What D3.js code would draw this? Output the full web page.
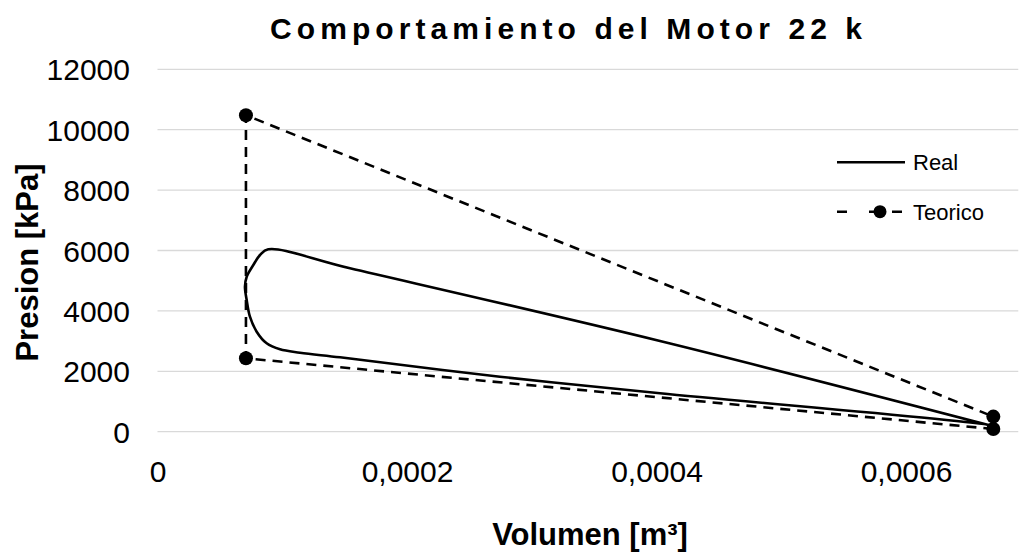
<!DOCTYPE html>
<html><head><meta charset="utf-8">
<script src="https://cdn.jsdelivr.net/npm/d3@7"></script>
<style>body{margin:0;background:#fff}svg{display:block;font-family:"Liberation Sans",Arial,sans-serif}</style>
</head><body><svg id="c" width="1022" height="555"></svg>
<script>
const title = "Comportamiento del Motor 22 k";
const xTicks = [0, 0.0002, 0.0004, 0.0006];
const xTickLabels = ["0", "0,0002", "0,0004", "0,0006"];
const yTicks = [0, 2000, 4000, 6000, 8000, 10000, 12000];
const realV = [0.000670, 0.0006673, 0.0004028, 0.0002745, 0.0001463, 0.0001142, 0.0000982, 0.0000875, 0.0000795, 0.0000741, 0.0000715, 0.0000701, 0.0000715, 0.0000768, 0.0000822, 0.0000888, 0.0001543, 0.0004028, 0.000670];
const realP = [180, 221, 1271, 1821, 2463, 2616, 2728, 2927, 3311, 3808, 4361, 4801, 5132, 5519, 5850, 6039, 5410, 3002, 180];
const teoV = [0.000670, 0.0000709, 0.0000709, 0.000670, 0.000670];
const teoP = [90, 2430, 10480, 500, 90];

const svg = d3.select("#c");
const xMax = 0.00069;
const x = d3.scaleLinear().domain([0, xMax]).range([157.5, 157.5 + xMax / 0.0002 * 249.5]);
const y = d3.scaleLinear().domain([0, 12000]).range([431.7, 69.3]);

svg.append("g").selectAll("line").data(yTicks).join("line")
  .attr("x1", x(0)).attr("x2", x(xMax))
  .attr("y1", d => y(d)).attr("y2", d => y(d))
  .attr("stroke", "#d9d9d9").attr("stroke-width", 1.3);

const yAxis = d3.axisLeft(y).tickValues(yTicks).tickSize(0).tickPadding(0).tickFormat(d3.format("d"));
const gy = svg.append("g").attr("transform", "translate(130,0)").call(yAxis);
gy.select(".domain").remove();
gy.selectAll("text").attr("font-size", 30).attr("fill", "#000").attr("font-family", "Liberation Sans, Arial").attr("dy", "0.35em");

const xAxis = d3.axisBottom(x).tickValues(xTicks).tickSize(0).tickPadding(0).tickFormat((d, i) => xTickLabels[i]);
const gx = svg.append("g").attr("transform", "translate(0,481.7)").call(xAxis);
gx.select(".domain").remove();
gx.selectAll("text").attr("font-size", 30).attr("fill", "#000").attr("font-family", "Liberation Sans, Arial").attr("dy", "0");

const realData = realV.map((v, i) => [v, realP[i]]);
svg.append("path").datum(realData)
  .attr("d", d3.line().x(d => x(d[0])).y(d => y(d[1])).curve(d3.curveCatmullRom.alpha(0.5)))
  .attr("fill", "none").attr("stroke", "#000").attr("stroke-width", 2.6).attr("stroke-linejoin", "round");

const teoData = teoV.map((v, i) => [v, teoP[i]]);
svg.append("path").datum(teoData)
  .attr("d", d3.line().x(d => x(d[0])).y(d => y(d[1])))
  .attr("fill", "none").attr("stroke", "#000").attr("stroke-width", 2.6).attr("stroke-dasharray", "10,7");
svg.append("g").selectAll("circle").data(teoData.slice(0, 4)).join("circle")
  .attr("cx", d => x(d[0])).attr("cy", d => y(d[1])).attr("r", 7).attr("fill", "#000");

// legend
svg.append("line").attr("x1", 837).attr("x2", 905).attr("y1", 162.3).attr("y2", 162.3).attr("stroke", "#000").attr("stroke-width", 2.6);
svg.append("text").attr("x", 913).attr("y", 170).attr("font-size", 22).text("Real");
svg.append("line").attr("x1", 837).attr("x2", 902).attr("y1", 211.7).attr("y2", 211.7).attr("stroke", "#000").attr("stroke-width", 2.6).attr("stroke-dasharray", "10,22,8,30");
svg.append("circle").attr("cx", 880).attr("cy", 211.7).attr("r", 6.5).attr("fill", "#000");
svg.append("line").attr("x1", 886).attr("x2", 902).attr("y1", 211.7).attr("y2", 211.7).attr("stroke", "#000").attr("stroke-width", 2.6).attr("stroke-dasharray", "0,6,10");
svg.append("text").attr("x", 913).attr("y", 219.5).attr("font-size", 22).text("Teorico");

// titles
svg.append("text").attr("x", 270).attr("y", 39).attr("text-anchor", "start")
  .attr("font-size", 30).attr("font-weight", "bold")
  .attr("textLength", 592).attr("lengthAdjust", "spacing").text(title);
svg.append("text").attr("transform", "translate(38,262.5) rotate(-90)").attr("text-anchor", "middle")
  .attr("font-size", 31).attr("font-weight", "bold").text("Presion [kPa]");
svg.append("text").attr("x", 590).attr("y", 545).attr("text-anchor", "middle")
  .attr("font-size", 31).attr("font-weight", "bold").text("Volumen [m³]");
</script></body></html>
